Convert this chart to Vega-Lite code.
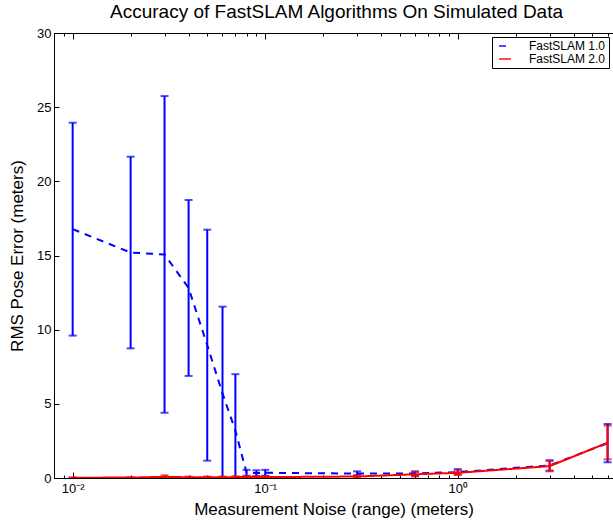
{
  "$schema": "https://vega.github.io/schema/vega-lite/v6.json",
  "width": 559,
  "height": 445,
  "autosize": {"type": "none"},
  "padding": {"left": 54, "top": 33, "right": 0, "bottom": 45},
  "background": "white",
  "title": {"text": "Accuracy of FastSLAM Algorithms On Simulated Data", "font": "Liberation Sans", "fontSize": 19, "fontWeight": "normal", "color": "black", "offset": 5, "anchor": "middle", "dx": 3},
  "data": {"values": [
    {"series": "FastSLAM 1.0", "noise": 0.01, "mean": 16.78, "lo": 9.6, "hi": 23.95},
    {"series": "FastSLAM 1.0", "noise": 0.02, "mean": 15.2, "lo": 8.74, "hi": 21.66},
    {"series": "FastSLAM 1.0", "noise": 0.03, "mean": 15.07, "lo": 4.4, "hi": 25.75},
    {"series": "FastSLAM 1.0", "noise": 0.04, "mean": 12.81, "lo": 6.88, "hi": 18.74},
    {"series": "FastSLAM 1.0", "noise": 0.05, "mean": 8.95, "lo": 1.17, "hi": 16.74},
    {"series": "FastSLAM 1.0", "noise": 0.06, "mean": 5.7, "lo": -0.15, "hi": 11.55},
    {"series": "FastSLAM 1.0", "noise": 0.07, "mean": 3.2, "lo": -0.6, "hi": 7.0},
    {"series": "FastSLAM 1.0", "noise": 0.08, "mean": 0.35, "lo": 0.15, "hi": 0.55},
    {"series": "FastSLAM 1.0", "noise": 0.09, "mean": 0.33, "lo": 0.12, "hi": 0.52},
    {"series": "FastSLAM 1.0", "noise": 0.1, "mean": 0.35, "lo": 0.15, "hi": 0.55},
    {"series": "FastSLAM 1.0", "noise": 0.3, "mean": 0.3, "lo": 0.15, "hi": 0.45},
    {"series": "FastSLAM 1.0", "noise": 0.6, "mean": 0.3, "lo": 0.15, "hi": 0.45},
    {"series": "FastSLAM 1.0", "noise": 1, "mean": 0.4, "lo": 0.25, "hi": 0.6},
    {"series": "FastSLAM 1.0", "noise": 3, "mean": 0.85, "lo": 0.5, "hi": 1.2},
    {"series": "FastSLAM 1.0", "noise": 6, "mean": 2.35, "lo": 1.06, "hi": 3.64},
    {"series": "FastSLAM 2.0", "noise": 0.01, "mean": 0.02, "lo": 0.0, "hi": 0.05},
    {"series": "FastSLAM 2.0", "noise": 0.02, "mean": 0.03, "lo": 0.0, "hi": 0.06},
    {"series": "FastSLAM 2.0", "noise": 0.03, "mean": 0.08, "lo": 0.0, "hi": 0.18},
    {"series": "FastSLAM 2.0", "noise": 0.04, "mean": 0.05, "lo": 0.0, "hi": 0.1},
    {"series": "FastSLAM 2.0", "noise": 0.05, "mean": 0.05, "lo": 0.0, "hi": 0.1},
    {"series": "FastSLAM 2.0", "noise": 0.06, "mean": 0.05, "lo": 0.0, "hi": 0.1},
    {"series": "FastSLAM 2.0", "noise": 0.07, "mean": 0.06, "lo": 0.0, "hi": 0.12},
    {"series": "FastSLAM 2.0", "noise": 0.08, "mean": 0.06, "lo": 0.0, "hi": 0.12},
    {"series": "FastSLAM 2.0", "noise": 0.09, "mean": 0.06, "lo": 0.0, "hi": 0.12},
    {"series": "FastSLAM 2.0", "noise": 0.1, "mean": 0.06, "lo": 0.0, "hi": 0.12},
    {"series": "FastSLAM 2.0", "noise": 0.3, "mean": 0.1, "lo": 0.0, "hi": 0.2},
    {"series": "FastSLAM 2.0", "noise": 0.6, "mean": 0.25, "lo": 0.1, "hi": 0.4},
    {"series": "FastSLAM 2.0", "noise": 1, "mean": 0.35, "lo": 0.2, "hi": 0.5},
    {"series": "FastSLAM 2.0", "noise": 3, "mean": 0.8, "lo": 0.45, "hi": 1.15},
    {"series": "FastSLAM 2.0", "noise": 6, "mean": 2.38, "lo": 1.26, "hi": 3.53}
  ]},
  "encoding": {
    "x": {"field": "noise", "type": "quantitative",
      "scale": {"type": "log", "domain": [0.008, 6.4], "nice": false, "zero": false},
      "axis": null},
    "color": {"field": "series", "type": "nominal",
      "scale": {"domain": ["FastSLAM 1.0", "FastSLAM 2.0"], "range": ["#0000ff", "#ff0000"]},
      "legend": {"title": null, "orient": "none", "legendX": 438, "legendY": 4}}
  },
  "layer": [
    {"transform": [{"filter": "datum.series == 'FastSLAM 1.0'"}],
     "layer": [
      {"mark": {"type": "rule", "strokeWidth": 2, "clip": true},
       "encoding": {"y": {"field": "lo", "type": "quantitative"}, "y2": {"field": "hi"}}},
      {"mark": {"type": "tick", "orient": "horizontal", "size": 8, "thickness": 2, "clip": true},
       "encoding": {"y": {"field": "hi", "type": "quantitative"}}},
      {"mark": {"type": "tick", "orient": "horizontal", "size": 8, "thickness": 2, "clip": true},
       "encoding": {"y": {"field": "lo", "type": "quantitative"}}}
     ]},
    {"transform": [{"filter": "datum.series == 'FastSLAM 2.0'"}],
     "layer": [
      {"mark": {"type": "rule", "strokeWidth": 2, "clip": true},
       "encoding": {"y": {"field": "lo", "type": "quantitative"}, "y2": {"field": "hi"}}},
      {"mark": {"type": "tick", "orient": "horizontal", "size": 8, "thickness": 2, "clip": true},
       "encoding": {"y": {"field": "hi", "type": "quantitative"}}},
      {"mark": {"type": "tick", "orient": "horizontal", "size": 8, "thickness": 2, "clip": true},
       "encoding": {"y": {"field": "lo", "type": "quantitative"}}}
     ]},
    {"mark": {"type": "line", "strokeWidth": 2, "clip": true},
     "encoding": {
       "x": {"field": "noise", "type": "quantitative",
         "axis": {"orient": "bottom", "title": "Measurement Noise (range) (meters)",
           "values": [0.008, 0.009, 0.01, 0.02, 0.03, 0.04, 0.05, 0.06, 0.07, 0.08, 0.09, 0.1, 0.2, 0.3, 0.4, 0.5, 0.6, 0.7, 0.8, 0.9, 1, 2, 3, 4, 5, 6],
           "labelExpr": "datum.value == 0.01 ? '10⁻²' : datum.value == 0.1 ? '10⁻¹' : datum.value == 1 ? '10⁰' : ''",
           "tickSize": {"condition": {"test": "datum.value == 0.01 || datum.value == 0.1 || datum.value == 1", "value": -6}, "value": -3},
           "labelPadding": 10, "titlePadding": 6}},
       "y": {"field": "mean", "type": "quantitative",
         "scale": {"domain": [0, 30], "nice": false},
         "axis": {"title": "RMS Pose Error (meters)", "values": [0, 5, 10, 15, 20, 25, 30], "tickSize": -5, "labelPadding": 8, "titlePadding": 10}},
       "strokeDash": {"field": "series", "type": "nominal",
         "scale": {"domain": ["FastSLAM 1.0", "FastSLAM 2.0"], "range": [[7, 6], [1, 0]]},
         "legend": {"title": null, "orient": "none", "legendX": 438, "legendY": 4}}
     }},
    {"mark": {"type": "point", "opacity": 0},
     "encoding": {
       "x": {"field": "noise", "type": "quantitative",
         "axis": {"orient": "top", "title": null, "labels": false,
           "values": [0.008, 0.009, 0.01, 0.02, 0.03, 0.04, 0.05, 0.06, 0.07, 0.08, 0.09, 0.1, 0.2, 0.3, 0.4, 0.5, 0.6, 0.7, 0.8, 0.9, 1, 2, 3, 4, 5, 6],
           "tickSize": {"condition": {"test": "datum.value == 0.01 || datum.value == 0.1 || datum.value == 1", "value": -6}, "value": -3}}},
       "y": {"field": "mean", "type": "quantitative"}
     }}
  ],
  "resolve": {"axis": {"x": "independent"}},
  "config": {
    "view": {"stroke": null},
    "axis": {"domainColor": "black", "domainWidth": 1, "tickColor": "black", "tickWidth": 1, "grid": false,
      "labelFont": "Liberation Sans", "labelFontSize": 13, "labelColor": "black",
      "titleFont": "Liberation Sans", "titleFontSize": 17, "titleFontWeight": "normal", "titleColor": "black"},
    "legend": {"labelFont": "Liberation Sans", "labelFontSize": 12, "labelColor": "black",
      "strokeColor": "black", "fillColor": "white", "padding": 3, "rowPadding": 1,
      "symbolType": "M-1,0H5", "symbolSize": 16, "symbolStrokeWidth": 2, "labelOffset": 22}
  }
}
